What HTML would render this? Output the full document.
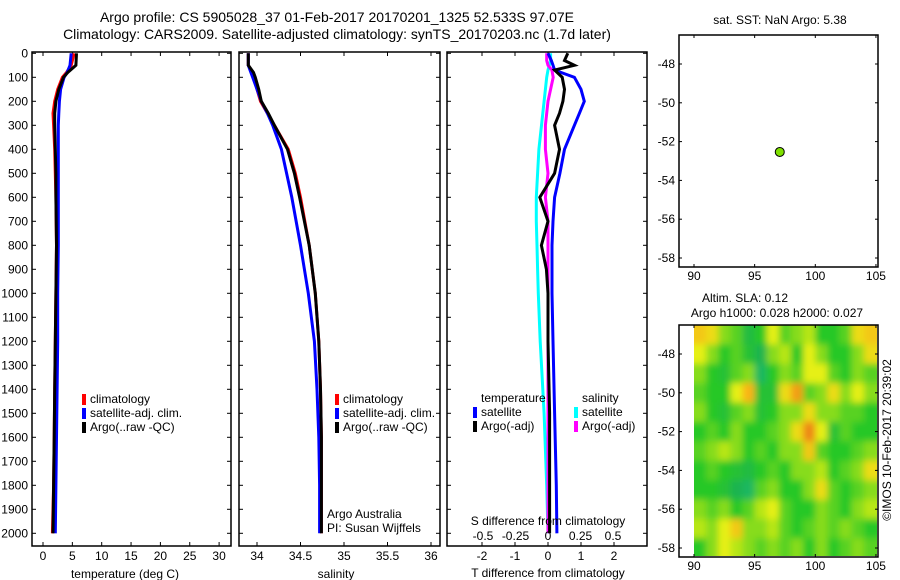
<!DOCTYPE html>
<html><head><meta charset="utf-8"><style>
body{margin:0;background:#fff;}
svg{display:block;font-family:"Liberation Sans",sans-serif;}
</style></head><body>
<svg id="c" width="900" height="580" viewBox="0 0 900 580">
<defs>
<filter id="blur" x="0" y="0" width="1" height="1"><feGaussianBlur stdDeviation="3.5"/></filter>
<clipPath id="hmclip"><rect x="694" y="325" width="183" height="231"/></clipPath>
</defs>
<text x="337" y="22" font-size="14" text-anchor="middle">Argo profile: CS 5905028_37 01-Feb-2017 20170201_1325 52.533S 97.07E</text>
<text x="337" y="39" font-size="14" text-anchor="middle">Climatology: CARS2009. Satellite-adjusted climatology: synTS_20170203.nc (1.7d later)</text>
</svg>
<script>
// ---- profile data ----
const depths=[0,50,80,100,150,200,250,300,400,500,600,800,1000,1200,1400,1600,1800,2000];
const climT=[5.3,4.8,4.0,3.3,2.5,2.0,1.7,1.8,2.0,2.1,2.2,2.3,2.2,2.1,2.0,1.9,1.8,1.6];
const satT=[4.8,4.6,4.1,3.6,3.0,2.8,2.7,2.6,2.6,2.6,2.6,2.6,2.5,2.5,2.4,2.3,2.2,2.1];
const argoT=[5.7,5.6,4.2,3.5,2.7,2.2,2.0,2.0,2.1,2.2,2.2,2.3,2.2,2.1,2.0,1.9,1.8,1.7];
const climS=[33.9,33.9,33.95,33.97,34.0,34.04,34.12,34.2,34.36,34.44,34.5,34.6,34.67,34.71,34.73,34.74,34.74,34.74];
const satS=[33.9,33.9,33.93,33.95,34.0,34.05,34.12,34.18,34.28,34.34,34.4,34.5,34.59,34.66,34.69,34.71,34.72,34.72];
const argoS=[33.9,33.9,33.96,33.98,34.02,34.05,34.13,34.2,34.35,34.43,34.49,34.6,34.67,34.71,34.73,34.74,34.74,34.74];
const diffDepths=[0,30,50,70,100,150,200,250,300,400,500,600,700,800,900,1000,1200,1500,1800,2000];
const dTsat=[0.0,0.1,0.15,0.2,0.8,1.0,1.1,0.95,0.8,0.5,0.36,0.2,0.15,0.12,0.12,0.12,0.15,0.2,0.25,0.27];
const dTargo=[0.6,0.5,0.8,0.2,0.43,0.5,0.45,0.35,0.2,0.35,0.2,-0.25,0.0,-0.2,-0.05,0.0,0.0,0.05,0.05,0.05];
const dSsat=[0.02,0.02,0.01,0.0,-0.01,-0.02,-0.03,-0.04,-0.05,-0.07,-0.08,-0.09,-0.09,-0.085,-0.08,-0.075,-0.06,-0.03,-0.01,0.0];
const dSargo=[-0.01,-0.01,0.0,0.03,0.04,0.02,0.0,-0.01,-0.02,-0.02,0.0,-0.02,0.0,0.0,0.0,0.0,0.0,0.0,0.0,0.0];
const depthTicks=[0,100,200,300,400,500,600,700,800,900,1000,1100,1200,1300,1400,1500,1600,1700,1800,1900,2000];
const tempTicks=[0,5,10,15,20,25,30];
const salTicks=[34,34.5,35,35.5,36];
const dTTicks=[-2,-1,0,1,2];
const dSTicks=[-0.5,-0.25,0,0.25,0.5];
const dSTickLabels=["-0.5","-0.25","0","0.25","0.5"];
// ---- map data ----
const floatLon=[97.07];
const floatLat=[-52.533];
const lonTicks=[90,95,100,105];
const latTicks=[-48,-50,-52,-54,-56,-58];
const slaLon0=90, slaLat0=-46.5;
const slaGrid=[
[0.8,0.75,0.6,0.55,0.4,0.5,0.7,0.55,0.6,0.65,0.5,0.5,0.55,0.75,0.8],
[0.7,0.6,0.5,0.55,0.45,0.35,0.6,0.65,0.5,0.7,0.6,0.5,0.5,0.6,0.75],
[0.6,0.5,0.45,0.55,0.6,0.3,0.5,0.6,0.55,0.7,0.7,0.55,0.5,0.6,0.55],
[0.55,0.5,0.5,0.7,0.85,0.45,0.45,0.75,0.9,0.55,0.6,0.75,0.6,0.7,0.6],
[0.6,0.5,0.45,0.55,0.6,0.45,0.5,0.6,0.6,0.75,0.6,0.6,0.55,0.55,0.5],
[0.5,0.55,0.5,0.6,0.5,0.5,0.55,0.6,0.75,0.95,0.7,0.45,0.55,0.5,0.5],
[0.55,0.6,0.65,0.6,0.5,0.55,0.5,0.6,0.6,0.8,0.55,0.5,0.5,0.55,0.6],
[0.5,0.55,0.5,0.45,0.4,0.5,0.55,0.5,0.6,0.6,0.65,0.5,0.55,0.6,0.75],
[0.5,0.5,0.45,0.35,0.3,0.55,0.6,0.5,0.5,0.6,0.75,0.55,0.5,0.55,0.6],
[0.6,0.55,0.6,0.5,0.55,0.65,0.7,0.55,0.5,0.5,0.6,0.55,0.5,0.6,0.65],
[0.65,0.6,0.7,0.8,0.6,0.6,0.65,0.55,0.5,0.55,0.6,0.55,0.6,0.55,0.5],
[0.5,0.6,0.7,0.65,0.6,0.55,0.6,0.55,0.6,0.5,0.6,0.5,0.55,0.6,0.55]];

const NS="http://www.w3.org/2000/svg";
const svg=document.getElementById('c');
function mk(tag,attrs,parent,txt){const e=document.createElementNS(NS,tag);for(const k in attrs)e.setAttribute(k,attrs[k]);if(txt!==undefined)e.textContent=txt;(parent||svg).appendChild(e);return e;}

const TOP=52,BOT=546;
const yD=d=>53.3+d*0.24;
const xT=t=>43+t*5.87;
const xS=s=>257+(s-34)*87;
const xDT=t=>548+t*33;
const xDS=s=>548+s*130;

function panel(x0,x1,name){
  const g=mk('g',{});
  
  
  mk('rect',{x:x0,y:TOP,width:x1-x0,height:BOT-TOP,fill:'none',stroke:'#000','stroke-width':1.5},g);
  depthTicks.forEach(d=>{const y=yD(d);mk('line',{x1:x0,x2:x0+4,y1:y,y2:y,stroke:'#000'},g);mk('line',{x1:x1-4,x2:x1,y1:y,y2:y,stroke:'#000'},g);});
  return g;
}
function line(g,xs,ds,xf,color,name,w){
  const p=mk('polyline',{points:xs.map((v,i)=>xf(v).toFixed(1)+','+yD(ds[i]).toFixed(1)).join(' '),fill:'none',stroke:color,'stroke-width':w||3},g);
  
  
}
function legend(g,x,y,color,label,name){
  const r=mk('rect',{x:x,y:y-9,width:4,height:11,fill:color},g);
  
  
  const t=mk('text',{x:x+8,y:y,'font-size':12},g,label);
  
  
}

const yl=mk('g',{});


depthTicks.forEach(d=>mk('text',{x:28,y:yD(d)+4,'font-size':12,'text-anchor':'end'},yl,String(d)));

const p1=panel(32,231,'temperature-panel');
tempTicks.forEach(t=>{const x=xT(t);mk('line',{x1:x,x2:x,y1:TOP,y2:TOP+4,stroke:'#000'},p1);mk('line',{x1:x,x2:x,y1:BOT-4,y2:BOT,stroke:'#000'},p1);mk('text',{x:x,y:560,'font-size':12,'text-anchor':'middle'},p1,String(t));});
mk('text',{x:125,y:578,'font-size':12,'text-anchor':'middle'},p1,'temperature (deg C)');
line(p1,climT,depths,xT,'#f00','temperature-climatology-line');
line(p1,satT,depths,xT,'#00f','temperature-satellite-line');
line(p1,argoT,depths,xT,'#000','temperature-argo-line');
legend(p1,82,403,'#f00','climatology','legend-climatology');
legend(p1,82,417,'#00f','satellite-adj. clim.','legend-satellite');
legend(p1,82,431,'#000','Argo(..raw -QC)','legend-argo');

const p2=panel(239,440,'salinity-panel');
salTicks.forEach(s=>{const x=xS(s);mk('line',{x1:x,x2:x,y1:TOP,y2:TOP+4,stroke:'#000'},p2);mk('line',{x1:x,x2:x,y1:BOT-4,y2:BOT,stroke:'#000'},p2);mk('text',{x:x,y:560,'font-size':12,'text-anchor':'middle'},p2,String(s));});
mk('text',{x:336,y:578,'font-size':12,'text-anchor':'middle'},p2,'salinity');
line(p2,climS,depths,xS,'#f00','salinity-climatology-line');
line(p2,satS,depths,xS,'#00f','salinity-satellite-line');
line(p2,argoS,depths,xS,'#000','salinity-argo-line');
legend(p2,335,403,'#f00','climatology','legend-climatology-s');
legend(p2,335,417,'#00f','satellite-adj. clim.','legend-satellite-s');
legend(p2,335,431,'#000','Argo(..raw -QC)','legend-argo-s');
mk('text',{x:327,y:518,'font-size':12},p2,'Argo Australia');
mk('text',{x:327,y:532,'font-size':12},p2,'PI: Susan Wijffels');

const p3=panel(447,647,'difference-panel');
dTTicks.forEach(t=>{const x=xDT(t);mk('line',{x1:x,x2:x,y1:TOP,y2:TOP+4,stroke:'#000'},p3);mk('line',{x1:x,x2:x,y1:BOT-4,y2:BOT,stroke:'#000'},p3);mk('text',{x:x,y:560,'font-size':12,'text-anchor':'middle'},p3,String(t));});
mk('text',{x:548,y:577,'font-size':12,'text-anchor':'middle'},p3,'T difference from climatology');
line(p3,dSsat,diffDepths,xDS,'#0ff','salinity-diff-satellite-line');
line(p3,dSargo,diffDepths,xDS,'#f0f','salinity-diff-argo-line');
line(p3,dTsat,diffDepths,xDT,'#00f','temperature-diff-satellite-line');
line(p3,dTargo,diffDepths,xDT,'#000','temperature-diff-argo-line');
mk('text',{x:481,y:402,'font-size':12},p3,'temperature');
mk('text',{x:582,y:402,'font-size':12},p3,'salinity');
legend(p3,473,416,'#00f','satellite','legend-t-satellite');
legend(p3,473,430,'#000','Argo(-adj)','legend-t-argo');
legend(p3,574,416,'#0ff','satellite','legend-s-satellite');
legend(p3,574,430,'#f0f','Argo(-adj)','legend-s-argo');
mk('text',{x:548,y:525,'font-size':12,'text-anchor':'middle'},p3,'S difference from climatology');
dSTicks.forEach((s,i)=>mk('text',{x:xDS(s),y:540,'font-size':12,'text-anchor':'middle'},p3,dSTickLabels[i]));

const xLon=l=>694+(l-90)*12.13;
function mapFrame(top,bot,latOrigin,name){
  const g=mk('g',{});
  
  
  const yLat=a=>latOrigin+(-48-a)*19.4;
  return {g,yLat,draw(){
    mk('rect',{x:679,y:top,width:199,height:bot-top,fill:'none',stroke:'#000','stroke-width':1.5},g);
    lonTicks.forEach(l=>{const x=xLon(l);mk('line',{x1:x,x2:x,y1:top,y2:top+3,stroke:'#000'},g);mk('line',{x1:x,x2:x,y1:bot-3,y2:bot,stroke:'#000'},g);mk('text',{x:x,y:bot+13,'font-size':12,'text-anchor':'middle'},g,String(l));});
    latTicks.forEach(a=>{const y=yLat(a);mk('line',{x1:679,x2:682,y1:y,y2:y,stroke:'#000'},g);mk('line',{x1:875,x2:878,y1:y,y2:y,stroke:'#000'},g);mk('text',{x:675,y:y+4,'font-size':12,'text-anchor':'end'},g,String(a));});
  }};
}
const m1=mapFrame(35,267,64,'sst-map');
mk('text',{x:780,y:24,'font-size':12,'text-anchor':'middle'},m1.g,'sat. SST: NaN Argo: 5.38');
m1.draw();
floatLon.forEach((l,i)=>{const c=mk('circle',{cx:xLon(l),cy:m1.yLat(floatLat[i]),r:4.5,fill:'#7fe000',stroke:'#000','stroke-width':1},m1.g);

});

const m2=mapFrame(325,557,354,'sla-map');
mk('text',{x:745,y:302,'font-size':12,'text-anchor':'middle'},m2.g,'Altim. SLA: 0.12');
mk('text',{x:777,y:317,'font-size':12,'text-anchor':'middle'},m2.g,'Argo h1000: 0.028 h2000: 0.027');
function col(v){
  const stops=[[0,[0,200,200]],[0.35,[30,180,80]],[0.5,[40,200,40]],[0.7,[230,240,20]],[0.85,[250,180,20]],[1,[230,110,20]]];
  for(let i=1;i<stops.length;i++){if(v<=stops[i][0]){const a=stops[i-1],b=stops[i],f=(v-a[0])/(b[0]-a[0]);return 'rgb('+a[1].map((c,k)=>Math.round(c+(b[1][k]-c)*f)).join(',')+')';}}
  return 'rgb(230,110,20)';
}
const hmOuter=mk('g',{'clip-path':'url(#hmclip)'},m2.g);
const hm=mk('g',{filter:'url(#blur)'},hmOuter);


mk('rect',{x:680,y:310,width:210,height:260,fill:col(0.55)},hm);
slaGrid.forEach((row,r)=>row.forEach((v,c)=>{
  const x0=xLon(slaLon0+c),y0=m2.yLat(slaLat0-r);
  const cell=mk('rect',{x:x0-(c===0?8:0),y:y0-(r===0?10:0),width:12.13+1+(c===0?8:0)+(c===row.length-1?10:0),height:19.4+1+(r===slaGrid.length-1?10:0)+(r===0?10:0),fill:col(v)},hm);
  
  
}));
m2.draw();
mk('text',{x:0,y:0,'font-size':12,'text-anchor':'middle',transform:'translate(891,440) rotate(-90)'},m2.g,'©IMOS 10-Feb-2017 20:39:02');
</script>
</body></html>
